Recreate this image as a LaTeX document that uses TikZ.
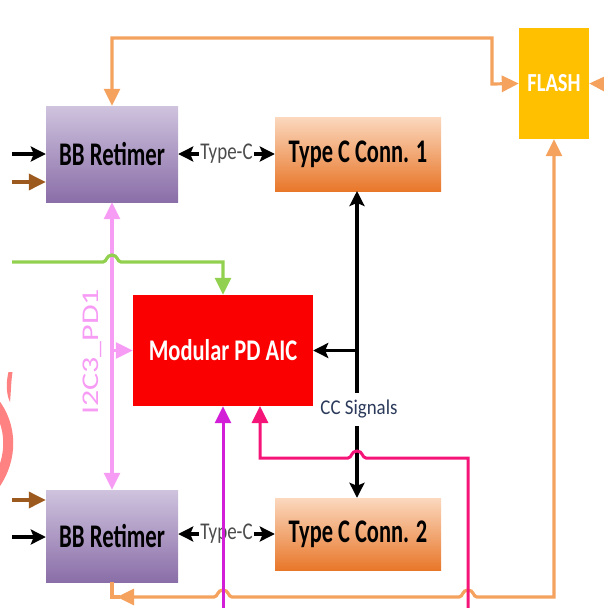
\documentclass[tikz,border=0pt]{standalone}
\usepackage{fontspec}
\setmainfont{Carlito}
\usetikzlibrary{arrows.meta}
\definecolor{orl}{HTML}{F5A25F}
\definecolor{grn}{HTML}{92D050}
\definecolor{pnk}{HTML}{F79CF5}
\definecolor{mag}{HTML}{D21ED6}
\definecolor{rpk}{HTML}{F51478}
\definecolor{brn}{HTML}{9C5A1E}
\definecolor{bbtop}{HTML}{CFC3DE}
\definecolor{bbbot}{HTML}{8A6EA8}
\definecolor{tctop}{HTML}{FBD8BE}
\definecolor{tcbot}{HTML}{E8772A}
\definecolor{flashc}{HTML}{FFC000}
\definecolor{aicc}{HTML}{FA0000}
\definecolor{wmark}{HTML}{FF8282}
\definecolor{ccc}{HTML}{2B3A5A}
\newcommand\sq[3]{{\fontsize{#1}{#1}\selectfont\scalebox{#2}[1]{#3}}}
\begin{document}
\begin{tikzpicture}[x=1pt,y=-1pt,
  bbbox/.style={minimum width=132pt,inner sep=0pt,top color=bbtop,bottom color=bbbot,font=\bfseries,text=black},
  tcbox/.style={minimum width=166pt,inner sep=0pt,top color=tctop,bottom color=tcbot,font=\bfseries,text=black},
  tri/.style={-{Triangle[width=16pt,length=17pt]}},
  tri2/.style={{Triangle[width=16pt,length=17pt]}-{Triangle[width=16pt,length=17pt]}},
  stl/.style={-{Stealth[width=15pt,length=15pt,inset=3pt]}},
  stl2/.style={{Stealth[width=15pt,length=15pt,inset=3pt]}-{Stealth[width=15pt,length=15pt,inset=3pt]}},
  oline/.style={draw=orl,line width=3.2pt},
  bline/.style={draw=black,line width=3.4pt},
  line join=miter]
\useasboundingbox (0,0) rectangle (603,608);

% watermark fragment
\fill[wmark] (8.5,372) .. controls (6,382) and (6,394) .. (10,402) .. controls (11,392) and (11,382) .. (12.5,372) -- cycle;
\draw[wmark,line width=10pt] (-6,402) .. controls (12,425) and (14,458) .. (-6,486);

% boxes
\node[bbbox,minimum height=96pt] (bbr1) at (112,154) {\sq{33}{0.69}{BB Retimer}};
\node[bbbox,minimum height=92pt] (bbr2) at (112,536) {\sq{33}{0.69}{BB Retimer}};
\node[tcbox,minimum height=74pt] (tc1) at (358,154) {\sq{33}{0.68}{Type C Conn. 1}};
\node[tcbox,minimum height=72pt] (tc2) at (358,534) {\sq{33}{0.68}{Type C Conn. 2}};
\node[fill=flashc,minimum width=70pt,minimum height=111pt,inner sep=0pt,text=white,font=\bfseries] (flash) at (554,83.5) {\sq{26}{0.79}{FLASH}};
\node[fill=aicc,minimum width=180pt,minimum height=111pt,inner sep=0pt,text=white,font=\bfseries] (aic) at (223,350.5) {\sq{30}{0.75}{Modular PD AIC}};

% free ends
\coordinate (in1a) at (12,154);
\coordinate (in1b) at (12,182);
\coordinate (in2a) at (12,500);
\coordinate (in2b) at (12,537);
\coordinate (fr) at (606,84);
\coordinate (gs) at (12,262);
\coordinate (ms) at (223,612);
\coordinate (rs) at (468,612);

% left inputs
\draw[bline,stl] (in1a) -- (bbr1.west |- in1a);
\draw[draw=brn,line width=3.4pt,tri] (in1b) -- (bbr1.west |- in1b);
\draw[draw=brn,line width=3.4pt,tri] (in2a) -- (bbr2.west |- in2a);
\draw[bline,stl] (in2b) -- (bbr2.west |- in2b);

% Type-C links
\draw[bline,stl2] (bbr1.east) -- (tc1.west) node[midway,fill=white,inner sep=1pt,text=black!70]{\sq{24}{0.79}{Type-C}};
\draw[bline,stl2] (bbr2.east |- tc2.west) -- (tc2.west) node[midway,fill=white,inner sep=1pt,text=black!70]{\sq{24}{0.79}{Type-C}};

% orange FLASH links
\draw[oline,tri2] (bbr1.north) -- (112,38) -- (492,38) -- (492,84) -- (flash.west);
\draw[oline,tri] (fr) -- (flash.east);
\draw[oline,tri2] (flash.south) -- (554,597)
  -- (477,597) .. controls (473,597) and (474,590) .. (468,590) .. controls (462,590) and (463,597) .. (459,597)
  -- (232,597) .. controls (228,597) and (229,590) .. (223,590) .. controls (217,590) and (218,597) .. (214,597)
  -- (117,597);
\draw[oline] (120,597) -- (112,597) -- (bbr2.south);

% I2C link
\draw[draw=pnk,line width=3.2pt,tri2] (bbr1.south) -- (bbr2.north);
\draw[draw=pnk,line width=3.2pt,tri] (112,350.5) -- (aic.west);
\node[rotate=90,text=pnk,inner sep=0pt] (i2c) at (92,352) {\scalebox{1}[0.75]{\fontsize{32}{32}\selectfont I2C3\_PD1}};

% green
\draw[draw=grn,line width=3.2pt,tri] (gs) -- (103,262) .. controls (107,262) and (106,255) .. (112,255) .. controls (118,255) and (117,262) .. (121,262) -- (223,262) -- (aic.north);

% CC signals
\draw[bline,stl] (357,393) -- (357,191);
\draw[bline,stl] (357,350.5) -- (aic.east);
\draw[bline,stl] (357,426) -- (tc2.north -| 357,0);
\node[text=ccc,inner sep=0pt] (cc) at (359,409) {\sq{21}{0.9}{CC Signals}};

% magenta and pink-red into AIC
\draw[draw=mag,line width=3pt,tri] (ms) -- (aic.south);
\draw[draw=rpk,line width=3pt,tri] (rs) -- (468,458)
  -- (366,458) .. controls (362,458) and (363,451) .. (357,451) .. controls (351,451) and (352,458) .. (348,458)
  -- (260,458) -- (260,406);
\end{tikzpicture}
\end{document}
